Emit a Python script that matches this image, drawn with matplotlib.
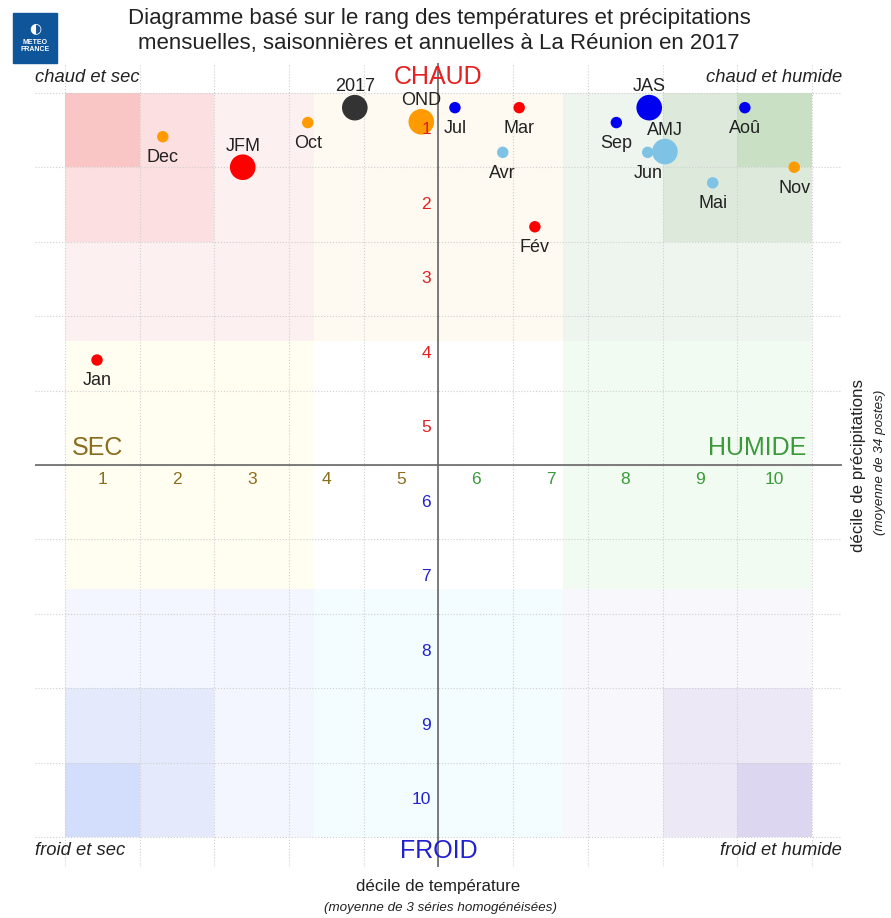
import numpy as np
import matplotlib
matplotlib.use('Agg')
from matplotlib import pyplot as plt
from matplotlib.patches import Rectangle

plt.rcParams['font.family'] = ['Liberation Sans', 'DejaVu Sans']

# periods: months, seasons and the year
labels = ['Jan', 'Fév', 'Mar', 'Avr', 'Mai', 'Jun', 'Jul', 'Aoû', 'Sep', 'Oct', 'Nov', 'Dec',
          'JFM', 'AMJ', 'JAS', 'OND', '2017']
precip_dec = [0.93, 6.79, 6.58, 6.36, 9.17, 8.30, 5.72, 9.60, 7.88, 3.75, 10.26, 1.81,
              2.88, 8.53, 8.32, 5.27, 4.38]
temp_dec = [4.09, 2.30, 0.70, 1.30, 1.71, 1.30, 0.70, 0.70, 0.90, 0.90, 1.50, 1.09,
            1.50, 1.29, 0.70, 0.89, 0.70]
kind = ['mois'] * 12 + ['saison'] * 4 + ['annee']
season = ['JFM', 'JFM', 'JFM', 'AMJ', 'AMJ', 'AMJ', 'JAS', 'JAS', 'JAS', 'OND', 'OND', 'OND',
          'JFM', 'AMJ', 'JAS', 'OND', '2017']
deciles = list(range(1, 11))

season_col = {'JFM': '#ff0000', 'AMJ': '#7ec3e6', 'JAS': '#0000f0', 'OND': '#ff9a00', '2017': '#333333'}

fig = plt.figure(figsize=(8.91, 9.18), dpi=100)
ax = fig.add_axes([35 / 891, 1 - 867 / 918, 807 / 891, 804 / 918])
ax.set_xlim(0.1, 10.9)
ax.set_ylim(10.9, 0.1)
for s in ax.spines.values():
    s.set_visible(False)

# background: terciles, then the two extreme deciles in each corner
terc = [(0.5, 10 / 3), (0.5 + 10 / 3, 10 / 3), (0.5 + 20 / 3, 10 / 3)]
terc_cols = [['#fdf0f1', '#fefaf2', '#eef5ee'],
             ['#fffef1', '#ffffff', '#f2fbf2'],
             ['#f3f6fe', '#f3fdff', '#f8f7fc']]
for r, (y0, h) in enumerate(terc):
    for c, (x0, w) in enumerate(terc):
        ax.add_patch(Rectangle((x0, y0), w, h, color=terc_cols[r][c], lw=0, zorder=0))
corners = [((0.5, 0.5), '#fcdfe0', '#fac5c5'),
           ((8.5, 0.5), '#dde9db', '#c9e0c5'),
           ((0.5, 8.5), '#e4eafc', '#d2defc'),
           ((8.5, 8.5), '#ece8f6', '#ddd6f0')]
for (x0, y0), c2, c1 in corners:
    ax.add_patch(Rectangle((x0, y0), 2, 2, color=c2, lw=0, zorder=0.1))
    cx = x0 if x0 < 5 else x0 + 1
    cy = y0 if y0 < 5 else y0 + 1
    ax.add_patch(Rectangle((cx, cy), 1, 1, color=c1, lw=0, zorder=0.2))

# dotted grid
grid = np.arange(0.5, 11, 1)
ax.set_xticks(grid)
ax.set_yticks(grid)
ax.tick_params(length=0, labelbottom=False, labelleft=False)
ax.grid(True, ls=':', color='#cfcfcf', lw=0.8, zorder=0.5)
ax.set_axisbelow(True)

# central cross
ax.axhline(5.5, color='#666666', lw=1.2, zorder=1)
ax.axvline(5.5, color='#666666', lw=1.2, zorder=1)

# points
for lab, x, y, k, s in zip(labels, precip_dec, temp_dec, kind, season):
    size = 68 if k == 'mois' else 340
    ax.scatter(x, y, s=size, color=season_col[s], edgecolors='none', zorder=3)
    dy = -15 if k == 'mois' else 15
    ax.annotate(lab, (x, y), xytext=(0, dy), textcoords='offset points',
                ha='center', va='center', fontsize=13, color='#222222', zorder=4)

# decile labels on the cross
for d in deciles:
    ax.text(d, 5.69, str(d), ha='center', va='center', fontsize=12.5,
            color='#8a6d1e' if d <= 5 else '#3a9a3a', zorder=5)
    ax.text(5.4, d, str(d), ha='right', va='center', fontsize=12.5,
            color='#e02020' if d <= 5 else '#2222cc', zorder=5)

ax.text(5.5, 0.29, 'CHAUD', ha='center', va='center', fontsize=18, color='#e52020', zorder=5)
ax.text(5.5, 10.69, 'FROID', ha='center', va='center', fontsize=18, color='#2020d0', zorder=5)
ax.text(0.93, 5.27, 'SEC', ha='center', va='center', fontsize=18, color='#8a6d1e', zorder=5)
ax.text(10.42, 5.27, 'HUMIDE', ha='right', va='center', fontsize=18, color='#3a9a3a', zorder=5)

ax.text(0.1, 0.3, 'chaud et sec', ha='left', va='center', fontsize=13.2, style='italic', color='#222222')
ax.text(10.9, 0.3, 'chaud et humide', ha='right', va='center', fontsize=13.2, style='italic', color='#222222')
ax.text(0.1, 10.68, 'froid et sec', ha='left', va='center', fontsize=13.2, style='italic', color='#222222')
ax.text(10.9, 10.68, 'froid et humide', ha='right', va='center', fontsize=13.2, style='italic', color='#222222')

# axis titles
fig.text(438 / 891, 1 - 886 / 918, 'décile de température', ha='center', va='center',
         fontsize=12.2, color='#222222')
fig.text(440 / 891, 1 - 908 / 918, '(moyenne de 3 séries homogénéisées)', ha='center', va='center',
         fontsize=9.6, style='italic', color='#222222')
fig.text(858 / 891, 1 - 465 / 918, 'décile de précipitations', ha='center', va='center',
         rotation=90, fontsize=12.2, color='#222222')
fig.text(880 / 891, 1 - 462 / 918, '(moyenne de 34 postes)', ha='center', va='center',
         rotation=90, fontsize=9.6, style='italic', color='#222222')

# title
fig.text(439 / 891, 1 - 31 / 918,
         'Diagramme basé sur le rang des températures et précipitations\n'
         'mensuelles, saisonnières et annuelles à La Réunion en 2017',
         ha='center', va='center', fontsize=16, color='#222222', linespacing=1.2)

# logo
fig.patches.append(Rectangle((13 / 891, 1 - 63 / 918), 44 / 891, 50 / 918, color='#0f5599',
                             transform=fig.transFigure, figure=fig))
fig.text(35 / 891, 1 - 46 / 918, 'METEO\nFRANCE', ha='center', va='center', fontsize=5,
         weight='bold', color='white', linespacing=1.1)
fig.text(35 / 891, 1 - 28 / 918, '\u25d0', ha='center', va='center', fontsize=10, color='white',
         family='DejaVu Sans')

fig.savefig('out.png', dpi=100)
